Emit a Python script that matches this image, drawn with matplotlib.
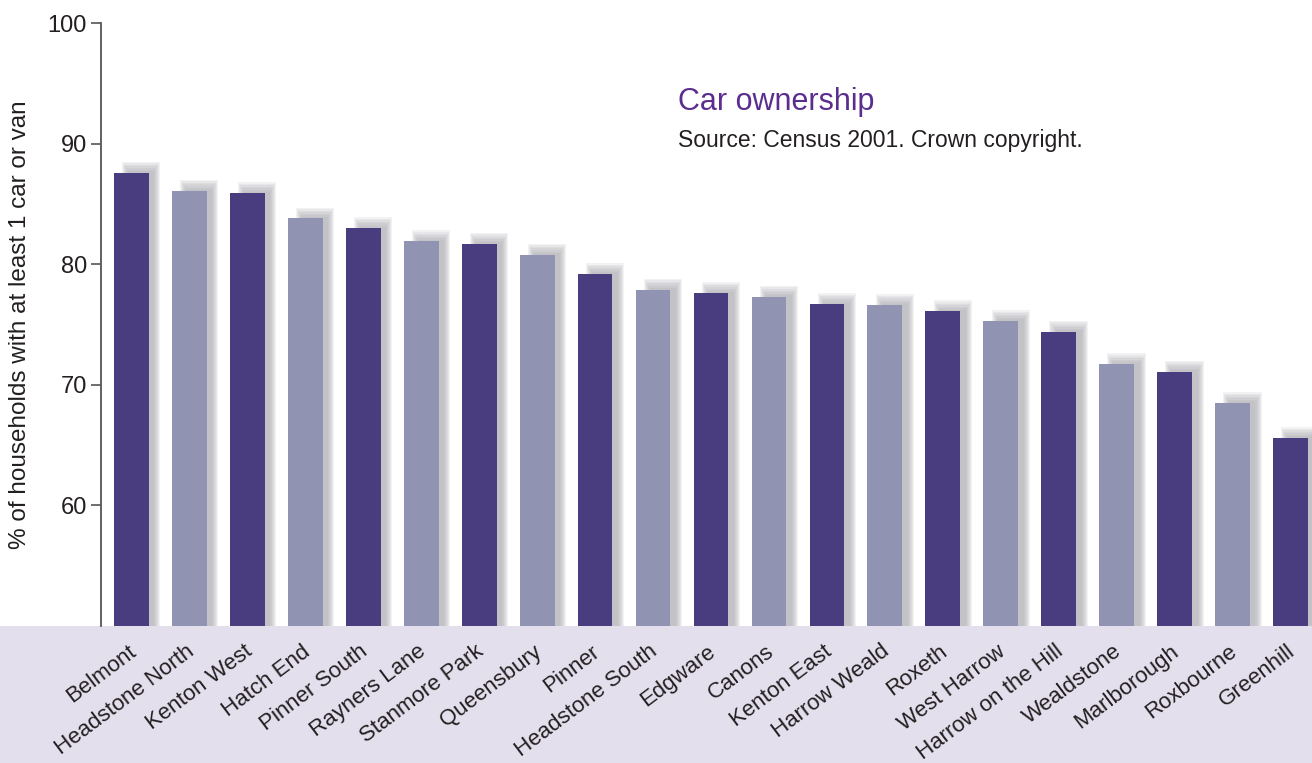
import matplotlib
matplotlib.use("Agg")
import matplotlib.pyplot as plt
import matplotlib.transforms as mtransforms
from matplotlib.patches import Rectangle

# Données
wards = ["Belmont", "Headstone North", "Kenton West", "Hatch End", "Pinner South",
         "Rayners Lane", "Stanmore Park", "Queensbury", "Pinner", "Headstone South",
         "Edgware", "Canons", "Kenton East", "Harrow Weald", "Roxeth", "West Harrow",
         "Harrow on the Hill", "Wealdstone", "Marlborough", "Roxbourne", "Greenhill"]
pct_car = [87.6, 86.1, 85.9, 83.8, 83.0, 81.9, 81.7, 80.8, 79.2, 77.9, 77.6,
           77.3, 76.7, 76.6, 76.1, 75.3, 74.4, 71.7, 71.1, 68.5, 65.6]
yticks = [60, 70, 80, 90, 100]

dark = "#4A3D7F"
light = "#9094B2"
band = "#E3DFED"
txt = "#231F20"

plt.rcParams["font.family"] = ["Liberation Sans", "DejaVu Sans"]

fig = plt.figure(figsize=(13.12, 7.63), dpi=100)
bot = 137 / 763
fig.patches.append(Rectangle((0, 0), 1, bot, transform=fig.transFigure,
                             facecolor=band, edgecolor="none", zorder=-5))
ax = fig.add_axes([101 / 1312, bot, 1 - 101 / 1312, 740 / 763 - bot])
ax.set_facecolor("none")

x = list(range(len(wards)))
cols = [dark if i % 2 == 0 else light for i in x]

# ombre floue : plusieurs couches transparentes
for k in range(7):
    ax.bar([i + 0.17 for i in x], [v + 0.9 - k * 0.13 for v in pct_car],
           width=0.66 - k * 0.035, color="#A9AAB0", alpha=0.15, zorder=1,
           linewidth=0)
ax.bar(x, pct_car, width=0.6, color=cols, zorder=3, linewidth=0)

ax.set_ylim(50, 100)
ax.set_xlim(-0.526, 20.37)
ax.set_yticks(yticks)
ax.tick_params(axis="y", direction="out", length=7, width=1.2, color="#555555",
               labelsize=17, labelcolor=txt, pad=3)
for s in ["top", "right", "bottom"]:
    ax.spines[s].set_visible(False)
ax.spines["left"].set_color("#555555")
ax.spines["left"].set_linewidth(1.3)

ax.set_xticks(x)
ax.set_xticklabels(wards, rotation=37, ha="right", va="top",
                   rotation_mode="anchor", fontsize=16, color=txt)
ax.tick_params(axis="x", length=0, pad=0)
off = mtransforms.ScaledTranslation(-0.04, -0.15, fig.dpi_scale_trans)
for lab in ax.get_xticklabels():
    lab.set_transform(lab.get_transform() + off)

ax.set_ylabel("% of households with at least 1 car or van", fontsize=17.5,
              color=txt, labelpad=12)

fig.text(678 / 1312, 1 - 102 / 763, "Car ownership", fontsize=22,
         color="#5B2D8E", va="center", ha="left")
fig.text(678 / 1312, 1 - 141 / 763, "Source: Census 2001. Crown copyright.",
         fontsize=16.5, color=txt, va="center", ha="left")

fig.savefig("out.png", dpi=100)
